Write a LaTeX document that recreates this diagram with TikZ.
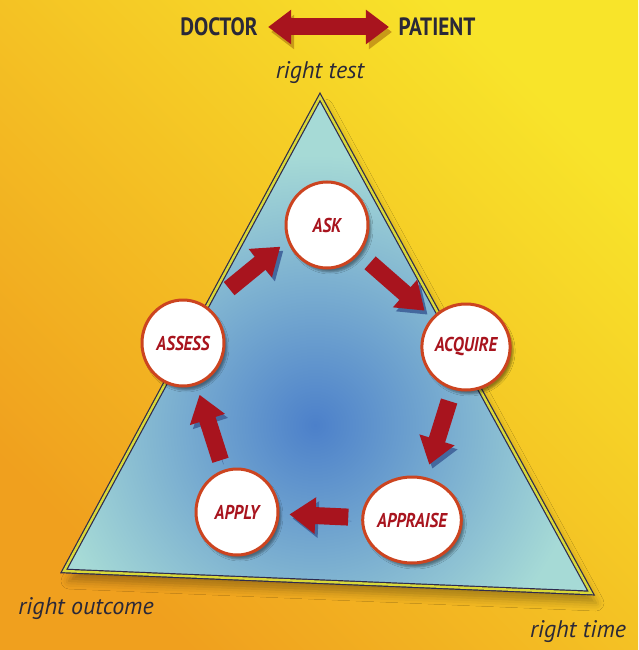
\documentclass[tikz,border=0pt]{standalone}
\usepackage{fontspec}
\setmainfont{PT Sans}
\newfontfamily\tagfont[FakeStretch=0.85]{PT Sans}
\usetikzlibrary{arrows.meta,shapes.geometric,shadows.blur}
\definecolor{bgorange}{HTML}{F0A01E}
\definecolor{bgyellow}{HTML}{F8E42A}
\definecolor{triblue}{HTML}{4C80CA}
\definecolor{tricyan}{HTML}{A6DAD6}
\definecolor{tririm}{HTML}{2E2A4E}
\definecolor{rimyellow}{HTML}{D8D83A}
\definecolor{arrowred}{HTML}{A8141E}
\definecolor{ringred}{HTML}{CC4420}
\definecolor{inkdark}{HTML}{2A2838}
\definecolor{shadeblue}{HTML}{44689E}
\definecolor{shadeorange}{HTML}{C89A18}
\tikzset{
  stage/.style={ellipse, draw=ringred, line width=3pt, fill=white,
    minimum width=82pt, minimum height=86pt, inner sep=0pt,
    font=\tagfont\fontsize{20}{20}\selectfont\bfseries\itshape, text=arrowred,
    blur shadow={shadow xshift=3pt, shadow yshift=-4pt, shadow opacity=40}},
  headline/.style={font=\tagfont\fontsize{25}{25}\selectfont\bfseries, text=inkdark},
  corner/.style={font=\fontsize{24}{24}\selectfont\itshape, text=inkdark},
  cycle/.style={line width=17pt, draw=arrowred, -{Triangle[length=26pt,width=35pt]},
    preaction={draw=shadeblue, transform canvas={shift={(3pt,-4pt)}}}},
  duo/.style={line width=17pt, draw=arrowred,
    {Triangle[length=23pt,width=33pt]}-{Triangle[length=23pt,width=33pt]},
    preaction={draw=shadeorange, transform canvas={shift={(3pt,-5pt)}}}}
}
\begin{document}
\begin{tikzpicture}[x=1pt,y=-1pt]
\useasboundingbox (0,0) rectangle (638,650);
\shade [bottom color=bgorange, top color=bgyellow, shading angle=-45] (0,0) rectangle (638,650);

% triangle
\coordinate (top) at (320,97);
\coordinate (left) at (64,571);
\coordinate (right) at (591,593);
\fill [tricyan, blur shadow={shadow xshift=5pt, shadow yshift=-10pt, shadow opacity=30, shadow blur radius=8pt}] (top) -- (left) -- (right) -- cycle;
\begin{scope}
\clip (top) -- (left) -- (right) -- cycle;
\shade [inner color=triblue, outer color=tricyan] (315,425) circle (270pt);
\end{scope}
\draw [tririm, line width=1.2pt, double=rimyellow, double distance=2.4pt] (top) -- (left) -- (right) -- cycle;

\node (doctor) at (219,27) [headline] {DOCTOR};
\node (patient) at (437,27) [headline] {PATIENT};
\draw [duo, shorten <=7pt, shorten >=6pt] (doctor) -- (patient);

\node (righttest) at (320,73) [corner] {right test};
\node (rightoutcome) at (86,609) [corner] {right outcome};
\node (righttime) at (578,632) [corner] {right time};

\node (ask) at (327,225) [stage] {ASK};
\node (acquire) at (466,347) [stage] {ACQUIRE};
\node (appraise) at (412,520) [stage] {APPRAISE};
\node (apply) at (237,512) [stage] {APPLY};
\node (assess) at (183,343) [stage] {ASSESS};

\draw [cycle, shorten <=70pt, shorten >=50pt] ([shift={(-8,-10)}]assess.center) -- ([shift={(-8,-10)}]ask.center);
\draw [cycle, shorten <=14pt, shorten >=10pt] (ask) -- (acquire);
\draw [cycle, shorten <=12pt, shorten >=13pt] (acquire) -- (appraise);
\draw [cycle, shorten <=13pt, shorten >=10pt] (appraise) -- (apply);
\draw [cycle, shorten <=10pt, shorten >=10pt] (apply) -- (assess);
\end{tikzpicture}
\end{document}
